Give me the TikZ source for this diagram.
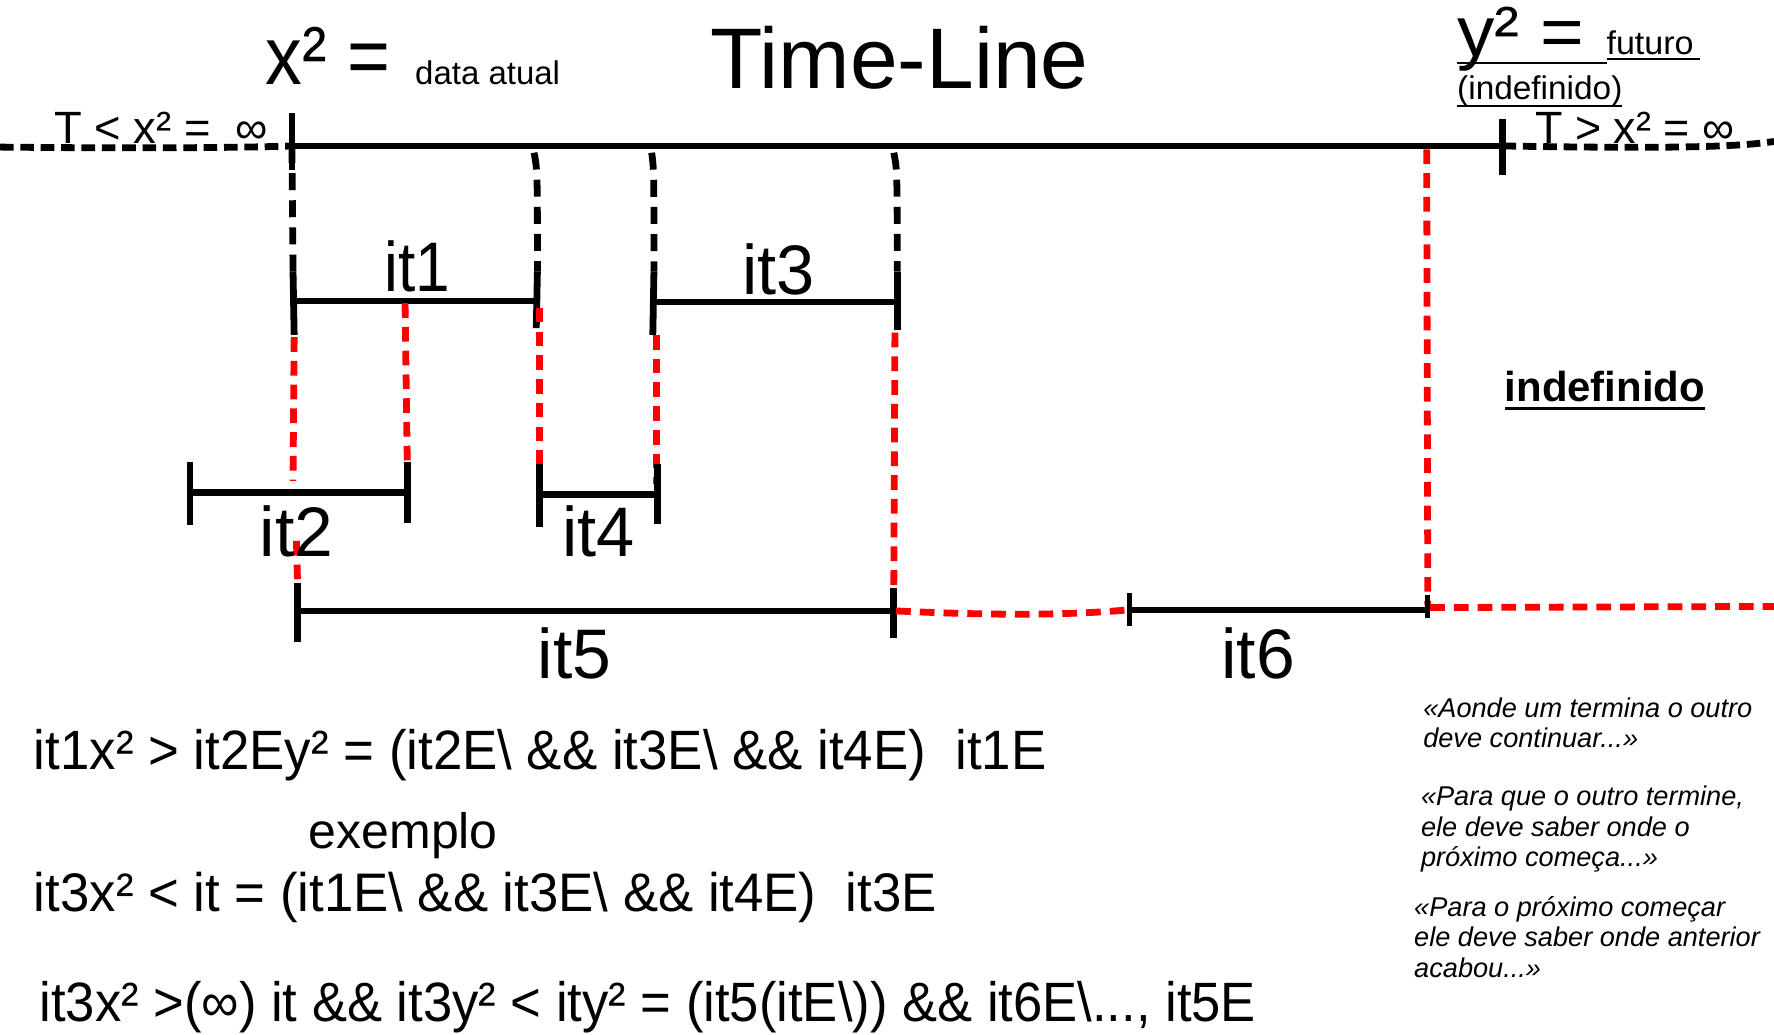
\documentclass[tikz,border=0pt]{standalone}
\usepackage{fontspec}
\setmainfont{Liberation Sans}
\usepackage{graphicx}
\newcommand{\fw}[3]{\resizebox{#1pt}{\height}{\fontsize{#2pt}{#2pt}\selectfont #3}}
\tikzset{
  every node/.style={inner sep=0pt, outer sep=0pt, text=black},
  barline/.style={line width=6pt},
  tickline/.style={line width=6pt},
  bdash/.style={line width=6pt, dash pattern=on 15pt off 9pt},
  rdash/.style={line width=6pt, red, dash pattern=on 13pt off 8pt},
  uline/.style={line width=1.6pt},
  quote/.style={anchor=base west, font=\fontsize{24pt}{27pt}\selectfont\itshape}
}
\begin{document}
\begin{tikzpicture}[x=1pt,y=-1pt]
\useasboundingbox (0,0) rectangle (1568,914);
% coordinates
\coordinate (L0) at (0,130);
\coordinate (A) at (258,129);
\coordinate (B) at (1328,129);
\coordinate (R) at (1568,125);
\coordinate (M2) at (472,135);
\coordinate (M3) at (576,135);
\coordinate (M4) at (790,135);
\coordinate (M5) at (1262,129);
\coordinate (P1) at (260,266);
\coordinate (P2) at (474,266);
\coordinate (P3) at (577,267);
\coordinate (P4) at (793,267);
\coordinate (Q1) at (168,435);
\coordinate (Q2) at (360,435);
\coordinate (Q3) at (477,437);
\coordinate (Q4) at (581,437);
\coordinate (S1) at (263,540);
\coordinate (S2) at (790,540);
\coordinate (S3) at (998,539);
\coordinate (S4) at (1262,539);
\coordinate (E) at (1568,536);

% main timeline
\draw[barline] (A) -- (B);
\draw[bdash, dash pattern=on 12pt off 6pt] (L0) .. controls (100,131) and (200,131) .. (A);
\draw[bdash, dash pattern=on 12pt off 6pt] (B) .. controls (1450,131) and (1530,131) .. (R);
\draw[tickline] (258,100) -- (258,150);
\draw[tickline] (1328,105) -- (1328,155);

% black dashed verticals
\draw[bdash] (A) -- (259,240);
\draw[bdash] (M2) .. controls (475,150) .. (475,240);
\draw[bdash] (M3) .. controls (578,150) .. (578,240);
\draw[bdash] (M4) .. controls (793,150) .. (793,240);

% it1 / it3 bars
\draw[barline] (P1) -- (P2);
\draw[barline] (P3) -- (P4);
\draw[tickline] (259,240) -- (260,296);
\draw[tickline] (475,240) -- (474,290);
\draw[tickline] (578,240) -- (577,296);
\draw[tickline] (793,240) -- (793,292);

% red dashed verticals
\draw[rdash] (260,298) -- (259,425);
\draw[rdash] (358,268) -- (360,410);
\draw[rdash] (477,272) -- (477,410);
\draw[rdash] (580,296) -- (580,428);
\draw[rdash] (791,294) -- (790,525);
\draw[rdash] (1261,132) -- (1262,535);
\draw[rdash] (262,478) -- (263,515);

% it2 / it4 bars
\draw[barline] (Q1) -- (Q2);
\draw[barline] (Q3) -- (Q4);
\draw[tickline] (168,408) -- (168,464);
\draw[tickline] (360,408) -- (360,462);
\draw[tickline] (477,410) -- (477,466);
\draw[tickline] (581,410) -- (581,463);

% it5 / it6 bars
\draw[barline] (S1) -- (S2);
\draw[line width=5pt] (S3) -- (S4);
\draw[tickline] (263,515) -- (263,567);
\draw[tickline] (790,520) -- (790,564);
\draw[line width=4.5pt] (998,524) -- (998,553);
\draw[line width=4.5pt] (1262,526) -- (1262,546);
\draw[rdash] (792,540) .. controls (880,544) and (940,544) .. (S3);
\draw[rdash] (1264,537) -- (E);

% labels on bars
\node[anchor=base] (lit1) at (369,258) {\fw{58}{62}{it1}};
\node[anchor=base] (lit3) at (688,260) {\fw{64}{62}{it3}};
\node[anchor=base] (lit2) at (262,492) {\fw{65}{62}{it2}};
\node[anchor=base] (lit4) at (529,492) {\fw{64}{62}{it4}};
\node[anchor=base] (lit5) at (508,600) {\fw{65}{62}{it5}};
\node[anchor=base] (lit6) at (1112,600) {\fw{65}{62}{it6}};

% header texts
\node[anchor=base west] (tl) at (48,127) {\fw{189}{40}{T < x² =\ \ ∞}};
\node[anchor=base west] (tr) at (1357,127) {\fw{176}{40}{T > x² = ∞}};
\node[anchor=base west] (x2) at (235,75) {\fw{110}{73}{x² =}};
\node[anchor=base west] (da) at (367,75) {\fw{128}{29}{data atual}};
\node[anchor=base west] (title) at (628,78) {\fw{334}{76}{Time-Line}};
\node[anchor=base west] (y2) at (1288,50) {\fw{112}{63}{y² =}};
\node[anchor=base west] (fut) at (1420,48) {\fw{77}{29}{futuro}};
\node[anchor=base west] (indp) at (1288,88) {\fw{146}{29}{(indefinido)}};
\draw[uline] (1288,56) -- (1420,56);
\draw[uline] (1420,52) -- (1503,52);
\draw[uline] (1288,94) -- (1434,94);
\node[anchor=base west] (indb) at (1330,355) {\fw{177}{37}{\bfseries indefinido}};
\draw[line width=2.5pt] (1330,361) -- (1507,361);

% formulas
\node[anchor=base west] (f1) at (30,680) {\fw{895}{49}{it1x² > it2Ey² = (it2E\textbackslash{} \&\& it3E\textbackslash{} \&\& it4E)\ \ it1E}};
\node[anchor=base west] (ex) at (273,750) {\fw{167}{44}{exemplo}};
\node[anchor=base west] (f2) at (30,806) {\fw{798}{48}{it3x² < it = (it1E\textbackslash{} \&\& it3E\textbackslash{} \&\& it4E)\ \ it3E}};
\node[anchor=base west] (f3) at (35,903) {\fw{1075}{49}{it3x² >(∞) it \&\& it3y² < ity² = (it5(itE\textbackslash{})) \&\& it6E\textbackslash{}..., it5E}};

% quotes
\node[quote] (q1a) at (1258,634) {«Aonde um termina o outro};
\node[quote] (q1b) at (1258,661) {deve continuar...»};
\node[quote] (q2a) at (1256,712) {«Para que o outro termine,};
\node[quote] (q2b) at (1256,739) {ele deve saber onde o};
\node[quote] (q2c) at (1256,766) {próximo começa...»};
\node[quote] (q3a) at (1250,810) {«Para o próximo começar};
\node[quote] (q3b) at (1250,837) {ele deve saber onde anterior};
\node[quote] (q3c) at (1250,864) {acabou...»};
\end{tikzpicture}
\end{document}
